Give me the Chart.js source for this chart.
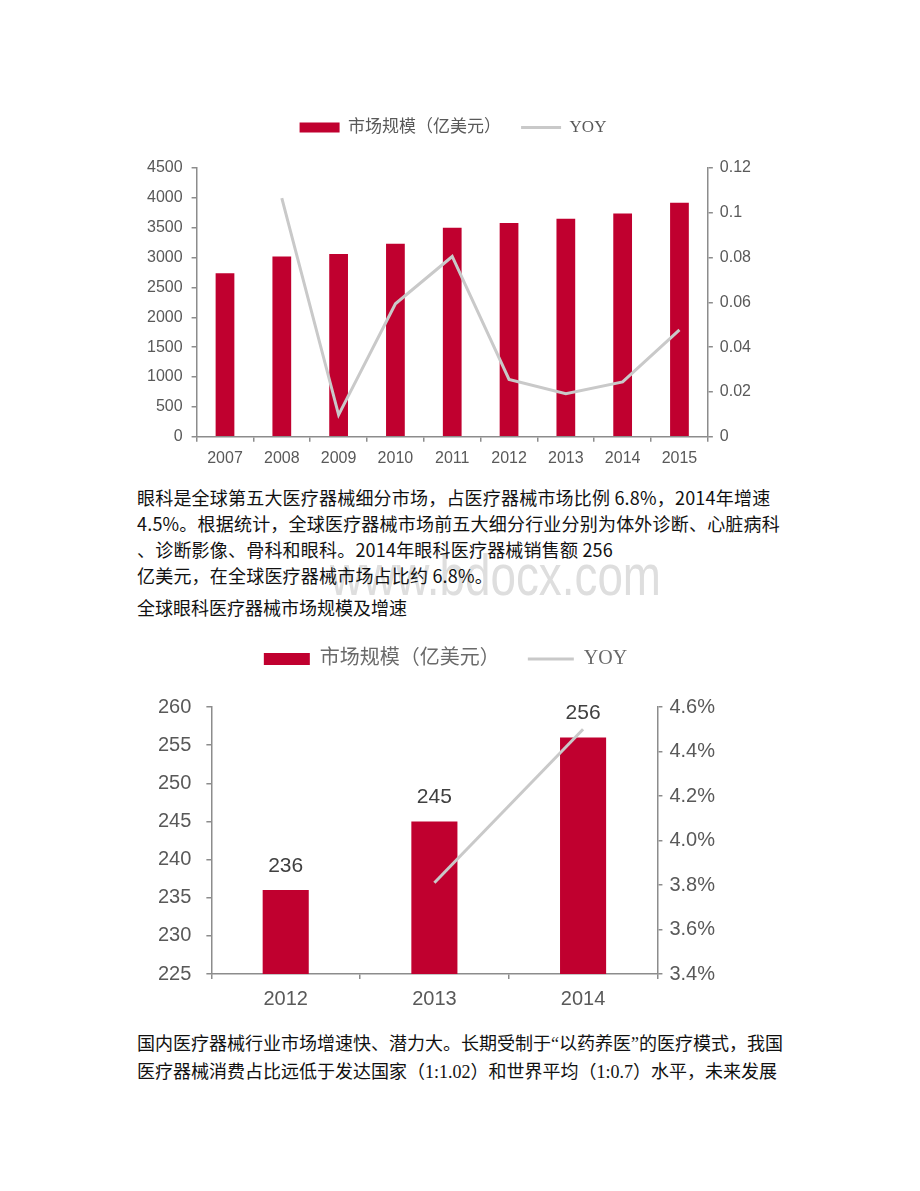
<!DOCTYPE html>
<html lang="zh-CN">
<head>
<meta charset="UTF-8">
<title>全球眼科医疗器械市场规模及增速</title>
<script src="https://cdn.jsdelivr.net/npm/chart.js"></script>
<style>
  body { margin: 0; background: #fff; }
  .page {
    position: relative;
    width: 920px;
    height: 1191px;
    overflow: hidden;
    font-family: "Noto Sans CJK SC", sans-serif;
    color: #111;
  }
  .chart-box { position: absolute; }
  .text {
    position: absolute;
    left: 137px;
    font-size: 18px;
    line-height: 26px;
    white-space: nowrap;
    z-index: 2;
  }
  .serif { font-family: "Liberation Serif", serif; }
  .watermark {
    position: absolute;
    left: 330px;
    top: 540px;
    font-family: "Liberation Sans", Arial, sans-serif;
    font-size: 58px;
    line-height: 70px;
    color: #dedede;
    transform: scaleX(0.79);
    transform-origin: left top;
    z-index: 1;
  }
</style>
</head>
<body>
<div class="page">
  <div class="chart-box" style="left:138px; top:99px; width:620px; height:376px;">
    <canvas id="worldChart"></canvas>
  </div>

  <div class="watermark">www.bdocx.com</div>
  <div class="text" style="top:484px; letter-spacing:0.2px;">
    眼科是全球第五大医疗器械细分市场，占医疗器械市场比例 6.8%，2014年增速<br>
    4.5%。根据统计，全球医疗器械市场前五大细分行业分别为体外诊断、心脏病科<br>
    、诊断影像、骨科和眼科。2014年眼科医疗器械销售额 256<br>
    亿美元，在全球医疗器械市场占比约 6.8%。
  </div>
  <div class="text" style="top:594px;">全球眼科医疗器械市场规模及增速</div>

  <div class="chart-box" style="left:143px; top:621px; width:579px; height:398px;">
    <canvas id="eyeChart"></canvas>
  </div>

  <div class="text" style="top:1029px;">
    国内医疗器械行业市场增速快、潜力大。长期受制于<span class="serif">“</span>以药养医<span class="serif">”</span>的医疗模式，我国<br>
    医疗器械消费占比远低于发达国家（<span class="serif">1:1.02</span>）和世界平均（<span class="serif">1:0.7</span>）水平，未来发展
  </div>
</div>

<script>
  // chart 1: world medical device market
  const worldYears = ['2007', '2008', '2009', '2010', '2011', '2012', '2013', '2014', '2015'];
  const worldMarket = [2740, 3020, 3060, 3230, 3500, 3580, 3650, 3740, 3920];
  const worldYoy = [null, 0.1065, 0.0098, 0.0594, 0.0805, 0.0256, 0.0192, 0.0245, 0.0477];

  // chart 2: ophthalmic devices
  const eyeYears = ['2012', '2013', '2014'];
  const eyeMarket = [236, 245, 256];
  const eyeYoy = [null, 3.81, 4.50];   // percent

  const RED = '#c0002f';
  const GREY_LINE = '#c9c9c9';
  const AXIS = '#8c8c8c';
  const TICK_TEXT = '#595959';

  // legend: rect for bars, short line for YOY, kept in dataset order
  function legendItems(chart) {
    const items = Chart.defaults.plugins.legend.labels.generateLabels(chart);
    items.forEach(it => {
      it.pointStyle = chart.data.datasets[it.datasetIndex].type === 'line' ? 'line' : 'rect';
    });
    return items.sort((a, b) => a.datasetIndex - b.datasetIndex);
  }

  // extra room under the legend, optional sideways nudge
  const legendGap = {
    id: 'legendGap',
    beforeInit(chart, args, opts) {
      const fit = chart.legend.fit;
      chart.legend.fit = function () {
        fit.call(this);
        this.height += opts.gap || 0;
      };
    },
    afterLayout(chart, args, opts) {
      if (opts.shift) {
        chart.legend.left += opts.shift;
        chart.legend.right += opts.shift;
      }
    }
  };

  function axisGrid(len) {
    return { display: true, drawOnChartArea: false, drawTicks: true, tickLength: len, color: AXIS, lineWidth: 1.5 };
  }

  // value labels above the bars (chart 2 only)
  const barLabels = {
    id: 'barLabels',
    afterDatasetsDraw(chart, args, opts) {
      if (!opts.show) return;
      const meta = chart.getDatasetMeta(0);
      const ctx = chart.ctx;
      ctx.save();
      ctx.font = '21px "Liberation Sans", Arial, sans-serif';
      ctx.fillStyle = '#404040';
      ctx.textAlign = 'center';
      ctx.textBaseline = 'middle';
      meta.data.forEach((bar, i) => {
        ctx.fillText(chart.data.datasets[0].data[i], bar.x, bar.y - 24);
      });
      ctx.restore();
    }
  };

  new Chart(document.getElementById('worldChart'), {
    type: 'bar',
    data: {
      labels: worldYears,
      datasets: [
        {
          type: 'bar',
          label: '市场规模（亿美元）',
          data: worldMarket,
          backgroundColor: RED,
          borderWidth: 0,
          barPercentage: 0.66,
          categoryPercentage: 0.5,
          yAxisID: 'y',
          order: 2
        },
        {
          type: 'line',
          label: 'YOY',
          data: worldYoy,
          borderColor: GREY_LINE,
          backgroundColor: GREY_LINE,
          borderWidth: 3,
          pointRadius: 0,
          tension: 0,
          yAxisID: 'y1',
          order: 1
        }
      ]
    },
    plugins: [barLabels, legendGap],
    options: {
      responsive: true,
      maintainAspectRatio: false,
      animation: false,
      layout: { padding: 0 },
      plugins: {
        barLabels: { show: false },
        legendGap: { gap: 22, shift: 5 },
        tooltip: { enabled: false },
        legend: {
          position: 'top',
          labels: {
            usePointStyle: true,
            pointStyleWidth: 40,
            boxHeight: 10,
            padding: 20,
            color: TICK_TEXT,
            font: { family: '"Liberation Serif", "Noto Sans CJK SC", serif', size: 17 },
            generateLabels: legendItems
          }
        }
      },
      scales: {
        x: {
          grid: axisGrid(5),
          border: { display: true, color: AXIS, width: 1.5 },
          ticks: { color: TICK_TEXT, padding: 7, font: { family: '"Liberation Sans", Arial', size: 16 } }
        },
        y: {
          position: 'left',
          min: 0,
          max: 4500,
          grid: axisGrid(5),
          border: { display: true, color: AXIS, width: 1.5 },
          ticks: {
            stepSize: 500,
            color: TICK_TEXT,
            padding: 9,
            font: { family: '"Liberation Sans", Arial', size: 16 },
            callback: v => String(v)
          }
        },
        y1: {
          position: 'right',
          min: 0,
          max: 0.12,
          grid: axisGrid(5),
          border: { display: true, color: AXIS, width: 1.5 },
          ticks: {
            stepSize: 0.02,
            color: TICK_TEXT,
            padding: 7,
            font: { family: '"Liberation Sans", Arial', size: 16 },
            callback: v => String(+v.toFixed(2))
          }
        }
      }
    }
  });

  new Chart(document.getElementById('eyeChart'), {
    type: 'bar',
    data: {
      labels: eyeYears,
      datasets: [
        {
          type: 'bar',
          label: '市场规模（亿美元）',
          data: eyeMarket,
          backgroundColor: RED,
          borderWidth: 0,
          barPercentage: 0.62,
          categoryPercentage: 0.5,
          yAxisID: 'y',
          order: 2
        },
        {
          type: 'line',
          label: 'YOY',
          data: eyeYoy,
          borderColor: GREY_LINE,
          backgroundColor: GREY_LINE,
          borderWidth: 3,
          pointRadius: 0,
          tension: 0,
          yAxisID: 'y1',
          order: 1
        }
      ]
    },
    plugins: [barLabels, legendGap],
    options: {
      responsive: true,
      maintainAspectRatio: false,
      animation: false,
      layout: { padding: 0 },
      plugins: {
        barLabels: { show: true },
        legendGap: { gap: 28, shift: 13 },
        tooltip: { enabled: false },
        legend: {
          position: 'top',
          labels: {
            usePointStyle: true,
            pointStyleWidth: 46,
            boxHeight: 12,
            padding: 28,
            color: '#6a6a6a',
            font: { family: '"Liberation Serif", "Noto Sans CJK SC", serif', size: 20 },
            generateLabels: legendItems
          }
        }
      },
      scales: {
        x: {
          grid: axisGrid(5),
          border: { display: true, color: AXIS, width: 1.5 },
          ticks: { color: TICK_TEXT, padding: 8, font: { family: '"Liberation Sans", Arial', size: 20 } }
        },
        y: {
          position: 'left',
          min: 225,
          max: 260,
          grid: axisGrid(5),
          border: { display: true, color: AXIS, width: 1.5 },
          ticks: { stepSize: 5, color: TICK_TEXT, padding: 15, font: { family: '"Liberation Sans", Arial', size: 20 } }
        },
        y1: {
          position: 'right',
          min: 3.4,
          max: 4.6,
          grid: axisGrid(5),
          border: { display: true, color: AXIS, width: 1.5 },
          ticks: {
            stepSize: 0.2,
            color: TICK_TEXT,
            padding: 7,
            font: { family: '"Liberation Sans", Arial', size: 20 },
            callback: v => v.toFixed(1) + '%'
          }
        }
      }
    }
  });
</script>
</body>
</html>
